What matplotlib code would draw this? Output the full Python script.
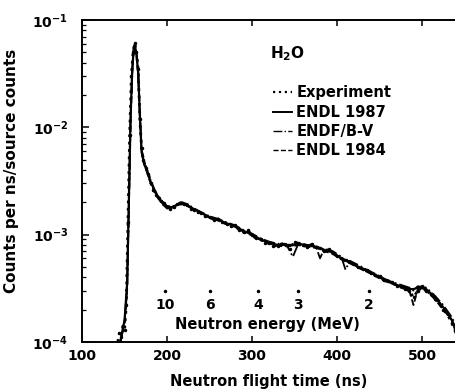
import math
import matplotlib
matplotlib.use("Agg")
import matplotlib.pyplot as plt
from matplotlib.lines import Line2D
from matplotlib.ticker import FuncFormatter, LogLocator

plt.rcParams['font.family'] = ['DejaVu Sans']
plt.rcParams['font.weight'] = 'bold'

# measured spectrum (ns, counts per ns per source count)
t_exp = [142, 144, 146, 148, 150, 152, 154, 156, 158, 160, 162, 164, 166, 168, 170,
         172, 175, 178, 181, 184, 187, 190, 193, 196, 200, 204, 208, 212, 216, 220,
         224, 228, 232, 236, 240, 245, 250, 255, 260, 265, 270, 275, 280, 285, 290,
         295, 300, 305, 310, 315, 320, 325, 330, 335, 340, 345, 350, 355, 360, 365,
         370, 375, 380, 385, 390, 395, 400, 405, 410, 415, 420, 425, 430, 435, 440,
         445, 450, 455, 460, 465, 470, 475, 480, 485, 490, 495, 500, 505, 510, 515,
         520, 525, 530, 535, 540]
y_exp = [1.0e-4, 1.2e-4, 1.1e-4, 1.4e-4, 1.3e-4, 2.2e-4, 1.3e-3, 8.5e-3, 3.0e-2, 5.0e-2,
         6.1e-2, 5.0e-2, 3.5e-2, 1.2e-2, 6.4e-3,
         5.0e-3, 4.2e-3, 3.7e-3, 3.0e-3, 2.6e-3, 2.35e-3, 2.2e-3, 2.05e-3, 1.95e-3, 1.8e-3,
         1.72e-3, 1.8e-3, 1.92e-3, 1.98e-3, 1.93e-3,
         1.9e-3, 1.74e-3, 1.7e-3, 1.62e-3, 1.6e-3, 1.5e-3, 1.45e-3, 1.38e-3, 1.4e-3, 1.3e-3,
         1.26e-3, 1.2e-3, 1.22e-3, 1.1e-3, 1.05e-3,
         1.1e-3, 0.98e-3, 0.92e-3, 0.9e-3, 0.84e-3, 0.83e-3, 0.79e-3, 0.78e-3, 0.82e-3, 0.8e-3,
         0.74e-3, 0.86e-3, 0.82e-3, 0.8e-3, 0.76e-3,
         0.81e-3, 0.77e-3, 0.75e-3, 0.7e-3, 0.73e-3, 0.67e-3, 0.63e-3, 0.6e-3, 0.58e-3, 0.55e-3,
         0.53e-3, 0.5e-3, 0.48e-3, 0.47e-3, 0.44e-3,
         0.42e-3, 0.41e-3, 0.38e-3, 0.37e-3, 0.36e-3, 0.33e-3, 0.33e-3, 0.31e-3, 0.3e-3, 0.26e-3,
         0.3e-3, 0.33e-3, 0.3e-3, 0.28e-3, 0.25e-3,
         0.23e-3, 0.2e-3, 0.18e-3, 0.15e-3, 0.12e-3]

# calculations on a common time grid
t_calc = [145, 150, 153, 155, 157, 159, 161, 162, 164, 166, 168, 170, 173, 176, 180,
          185, 190, 195, 200, 206, 212, 218, 225, 232, 240, 250, 260, 270, 280, 290,
          300, 310, 320, 330, 340, 348, 355, 365, 375, 380, 385, 395, 405, 410, 415,
          425, 435, 445, 455, 465, 475, 485, 490, 495, 505, 515, 525, 535, 540]
y_endl87 = [1.0e-4, 1.6e-4, 3.5e-4, 2.0e-3, 1.2e-2, 3.5e-2, 5.6e-2, 5.8e-2, 4.8e-2, 3.2e-2,
            1.3e-2, 6.0e-3, 4.6e-3, 4.0e-3, 3.2e-3,
            2.6e-3, 2.2e-3, 1.95e-3, 1.8e-3, 1.8e-3, 1.9e-3, 1.95e-3, 1.85e-3, 1.72e-3, 1.6e-3,
            1.45e-3, 1.38e-3, 1.27e-3, 1.2e-3, 1.08e-3,
            1.0e-3, 0.9e-3, 0.84e-3, 0.8e-3, 0.8e-3, 0.8e-3, 0.82e-3, 0.79e-3, 0.77e-3, 0.75e-3,
            0.72e-3, 0.68e-3, 0.6e-3, 0.58e-3, 0.55e-3,
            0.5e-3, 0.46e-3, 0.42e-3, 0.38e-3, 0.35e-3, 0.33e-3, 0.31e-3, 0.31e-3, 0.32e-3, 0.31e-3,
            0.26e-3, 0.21e-3, 0.16e-3, 0.13e-3]
y_endfb5 = [1.0e-4, 1.5e-4, 3.2e-4, 1.8e-3, 1.1e-2, 3.3e-2, 5.5e-2, 6.0e-2, 5.0e-2, 3.4e-2,
            1.4e-2, 6.3e-3, 4.8e-3, 4.1e-3, 3.3e-3,
            2.65e-3, 2.25e-3, 2.0e-3, 1.85e-3, 1.82e-3, 1.92e-3, 2.0e-3, 1.9e-3, 1.75e-3, 1.62e-3,
            1.48e-3, 1.4e-3, 1.3e-3, 1.22e-3, 1.1e-3,
            1.02e-3, 0.92e-3, 0.86e-3, 0.82e-3, 0.82e-3, 0.62e-3, 0.84e-3, 0.8e-3, 0.78e-3, 0.6e-3,
            0.74e-3, 0.7e-3, 0.62e-3, 0.47e-3, 0.57e-3,
            0.52e-3, 0.47e-3, 0.43e-3, 0.39e-3, 0.36e-3, 0.34e-3, 0.32e-3, 0.3e-3, 0.33e-3, 0.32e-3,
            0.27e-3, 0.22e-3, 0.17e-3, 0.14e-3]
y_endl84 = [1.0e-4, 1.5e-4, 3.0e-4, 1.6e-3, 1.0e-2, 3.2e-2, 5.4e-2, 5.7e-2, 4.7e-2, 3.1e-2,
            1.25e-2, 5.8e-3, 4.5e-3, 3.9e-3, 3.1e-3,
            2.55e-3, 2.15e-3, 1.9e-3, 1.75e-3, 1.78e-3, 1.88e-3, 1.92e-3, 1.82e-3, 1.7e-3, 1.57e-3,
            1.43e-3, 1.35e-3, 1.25e-3, 1.18e-3, 1.06e-3,
            0.98e-3, 0.89e-3, 0.83e-3, 0.78e-3, 0.78e-3, 0.78e-3, 0.8e-3, 0.77e-3, 0.75e-3, 0.73e-3,
            0.7e-3, 0.66e-3, 0.59e-3, 0.56e-3, 0.54e-3,
            0.49e-3, 0.45e-3, 0.41e-3, 0.37e-3, 0.35e-3, 0.32e-3, 0.3e-3, 0.22e-3, 0.31e-3, 0.3e-3,
            0.25e-3, 0.2e-3, 0.16e-3, 0.12e-3]

# neutron energy scale marks
energy_labels = ['10', '6', '4', '3', '2']
energy_tof = [197.6, 250.6, 307, 354, 437.6]
energy_level = 3.0e-4

fig = plt.figure(figsize=(4.56, 3.92), dpi=100)
ax = fig.add_axes([0.18, 0.128, 0.82, 0.821])

ax.plot(t_calc, y_endl87, color='black', lw=1.6, ls='-')
ax.plot(t_calc, y_endfb5, color='black', lw=1.3, ls='-.')
ax.plot(t_calc, y_endl84, color='black', lw=1.3, ls='--')
ax.plot(t_exp, y_exp, color='black', lw=2.0, ls=':', marker='.', ms=3)

ax.plot(energy_tof, [energy_level] * len(energy_tof), ls='none', marker='.', ms=3, color='black')
for lab, t in zip(energy_labels, energy_tof):
    ax.text(t, energy_level * 0.86, lab, ha='center', va='top', fontsize=10, fontweight='bold')
ax.text(0.495, 0.053, 'Neutron energy (MeV)', transform=ax.transAxes, ha='center', va='center',
        fontsize=10.5, fontweight='bold')

ax.set_yscale('log')
ax.set_xlim(100, 540)
ax.set_ylim(1e-4, 1e-1)
ax.set_xticks([100, 200, 300, 400, 500])
ax.yaxis.set_major_locator(LogLocator(base=10, numticks=10))
ax.yaxis.set_minor_locator(LogLocator(base=10, subs=range(2, 10), numticks=10))
ax.yaxis.set_major_formatter(FuncFormatter(lambda v, p: r'$\mathbf{10^{%d}}$' % round(math.log10(v))))
ax.yaxis.set_minor_formatter(FuncFormatter(lambda v, p: ''))

ax.tick_params(axis='x', which='major', direction='in', top=True, bottom=True, length=4, width=1.1,
               pad=5, labelsize=10)
ax.tick_params(axis='y', which='major', direction='in', left=True, right=False, length=5, width=1.1,
               pad=10, labelsize=10)
ax.tick_params(axis='y', which='minor', direction='in', left=True, right=False, length=3, width=0.9)
ax.spines['right'].set_visible(False)
for s in ['left', 'top', 'bottom']:
    ax.spines[s].set_linewidth(1.4)

ax.set_xlabel('Neutron flight time (ns)', fontsize=10.5, fontweight='bold', labelpad=8)
ax.set_ylabel('Counts per ns/source counts', fontsize=11, fontweight='bold')
ax.yaxis.set_label_coords(-0.168, 0.531)

ax.text(0.503, 0.896, r'$\mathbf{H_2O}$', transform=ax.transAxes, ha='left', va='center', fontsize=11)

handles = [Line2D([], [], color='black', ls=':', lw=1.6),
           Line2D([], [], color='black', ls='-', lw=1.4),
           Line2D([], [], color='black', ls='-.', lw=1.0),
           Line2D([], [], color='black', ls='--', lw=1.0)]
names = ['Experiment', 'ENDL 1987', 'ENDF/B-V', 'ENDL 1984']
ax.legend(handles, names, loc='upper left', bbox_to_anchor=(0.511, 0.797), frameon=False,
          prop={'weight': 'bold', 'size': 10.5}, handlelength=1.3, handletextpad=0.3,
          labelspacing=0.3, borderpad=0, borderaxespad=0)

fig.savefig('out.png', dpi=100)
